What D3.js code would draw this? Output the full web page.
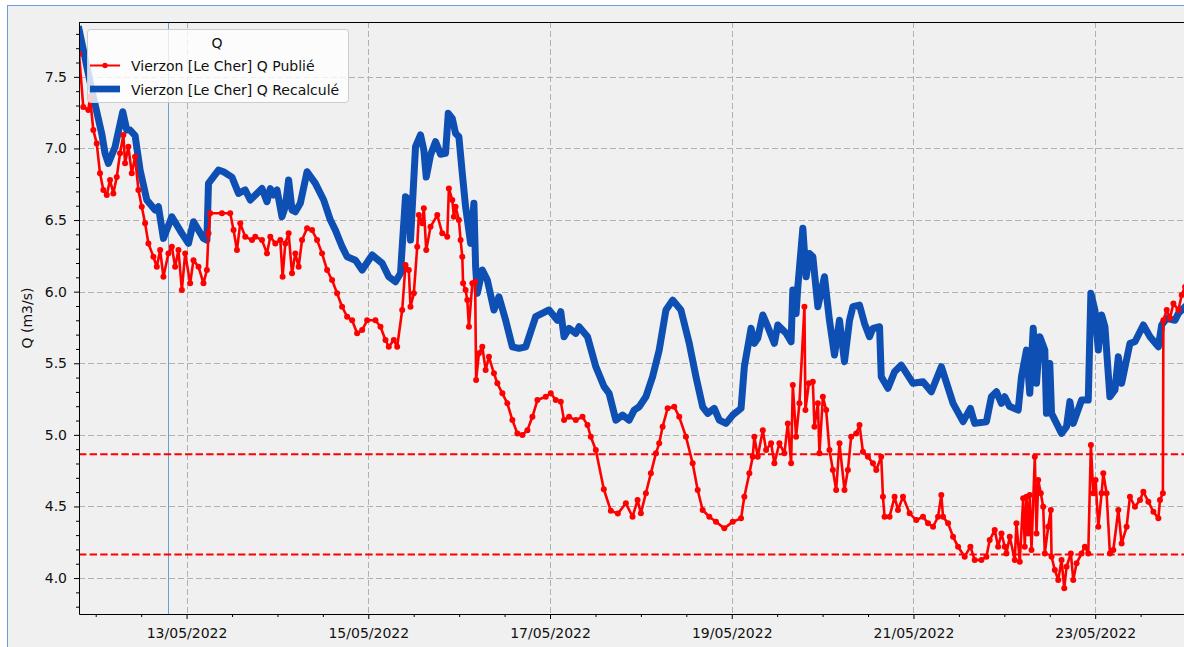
<!DOCTYPE html>
<html><head><meta charset="utf-8">
<script src="https://cdn.jsdelivr.net/npm/d3@7"></script>
<style>
html,body{margin:0;padding:0;background:#fff;overflow:hidden;}
svg{display:block;font-family:"DejaVu Sans",sans-serif;}
</style></head><body>
<svg id="chart" width="1184" height="647"></svg>
<script>
// ---------------- data (hours since 2022-05-11 00:00, discharge in m3/s) ----------------
const seriesNames = ["Vierzon [Le Cher] Q Publié", "Vierzon [Le Cher] Q Recalculé"];
const legendTitle = "Q";
const yLabel = "Q (m3/s)";
const yTicks = [4.0, 4.5, 5.0, 5.5, 6.0, 6.5, 7.0, 7.5];
const thresholds = [4.865, 4.165];
const cursorHour = 43.1;
const xDomainHours = [19.59, 316];
const yDomain = [3.749, 7.883];

const hoursRecalcule = [19.6,22.95,25.59,26.47,27.34,29.11,31.15,32.21,33.08,34.4,35.72,37.5,39.69,40.57,41.89,44.11,46.76,48.5,49.83,52.47,53.37,53.79,56.44,57.76,59.98,61.73,63.5,64.83,67.92,69.24,70.12,70.99,71.89,73.21,74.08,74.96,75.86,76.73,78.05,79.83,82.02,84.22,85.99,87.31,89.08,90.41,92.6,94.38,97.02,99.67,101.41,103.19,104.51,104.96,105.83,106.7,107.15,108.48,109.8,110.67,111.31,112.44,113.77,115.09,116.41,117.13,118.19,119.06,119.93,120.83,121.7,123.03,123.9,124.35,124.8,126.12,127.44,129.19,130.51,132.29,134.06,135.8,137.58,140.22,143.74,145.96,146.84,147.71,149.03,150.81,151.68,153.9,156.1,158.29,159.61,161.39,163.16,164.9,166.23,167.55,169.32,171.1,172.84,174.62,176.39,178.58,180.78,182.55,184.32,185.65,187.39,188.71,190.49,192.26,194.46,195.33,197.1,197.97,198.87,200.2,201.52,203.26,204.16,206.36,207.68,208.13,209.0,209.46,210.78,211.65,212.52,213.42,214.75,216.49,217.81,219.14,220.46,221.78,223.11,224.01,225.75,227.07,228.4,229.3,231.04,231.49,233.26,235.01,236.78,239.88,242.52,244.72,247.36,250.46,253.11,255.04,256.17,259.27,260.59,261.92,263.24,264.11,265.35,267.66,268.53,269.85,270.72,271.63,272.5,273.37,274.69,275.14,276.01,276.47,277.79,279.11,280.43,281.31,282.21,284.4,286.17,286.86,287.92,288.82,289.69,290.57,291.89,293.21,294.11,294.98,297.18,298.5,300.72,302.47,304.69,305.56,306.89,309.08,309.98,311.73,313.5];
const qRecalcule = [7.83,7.41,7.105,6.966,6.896,7.01,7.256,7.128,7.128,7.09,6.85,6.64,6.57,6.593,6.372,6.523,6.407,6.337,6.488,6.372,6.36,6.756,6.849,6.837,6.80,6.686,6.71,6.64,6.72,6.628,6.72,6.675,6.71,6.523,6.593,6.78,6.57,6.558,6.617,6.837,6.756,6.64,6.50,6.43,6.314,6.244,6.22,6.151,6.256,6.198,6.104,6.069,6.128,6.314,6.663,6.64,6.36,7.012,7.094,6.989,6.80,6.954,7.047,6.96,6.966,7.245,7.21,7.105,7.082,6.826,6.593,6.337,6.617,6.174,5.988,6.151,6.081,5.872,5.964,5.80,5.615,5.604,5.615,5.825,5.872,5.80,5.86,5.685,5.744,5.709,5.755,5.685,5.476,5.336,5.29,5.103,5.138,5.103,5.173,5.196,5.266,5.406,5.592,5.872,5.941,5.872,5.639,5.406,5.196,5.15,5.185,5.103,5.08,5.138,5.185,5.476,5.744,5.639,5.674,5.837,5.755,5.639,5.767,5.709,5.65,6.011,5.848,6.034,6.442,6.104,6.267,6.244,5.895,6.104,5.80,5.557,5.80,5.511,5.80,5.895,5.906,5.778,5.685,5.744,5.755,5.406,5.325,5.441,5.487,5.36,5.371,5.301,5.476,5.22,5.092,5.185,5.08,5.092,5.266,5.301,5.22,5.266,5.20,5.173,5.406,5.592,5.29,5.744,5.36,5.685,5.592,5.15,5.499,5.15,5.08,5.01,5.057,5.232,5.08,5.243,5.243,5.988,5.872,5.592,5.837,5.755,5.266,5.313,5.545,5.36,5.639,5.65,5.767,5.685,5.615,5.767,5.814,5.80,5.848,5.895,5.92];

const hoursPublie = [19.6,20.72,22.05,22.5,23.37,24.27,25.14,26.02,26.92,27.79,28.66,29.56,30.43,31.31,31.76,32.63,33.53,34.4,35.28,36.17,37.05,37.92,39.24,40.14,41.02,41.89,43.21,44.11,44.98,45.86,46.76,47.63,48.95,49.83,51.15,52.47,53.37,53.79,54.24,57.34,59.53,60.41,61.31,62.18,63.5,65.28,66.15,67.92,69.24,70.12,71.44,72.76,73.37,74.08,74.96,75.86,76.73,77.6,78.5,79.83,81.15,82.47,83.79,85.12,86.44,87.76,89.08,90.41,91.73,93.05,94.38,95.7,97.89,99.22,100.54,101.41,102.74,103.63,104.96,105.83,106.7,107.15,108.03,108.93,109.35,110.25,110.67,111.31,112.44,114.22,115.54,116.86,117.29,118.19,118.61,119.06,119.93,120.38,120.83,121.04,121.7,122.15,122.58,123.48,124.22,124.48,125.22,126.12,127.0,127.87,129.19,130.09,131.41,132.73,134.06,135.38,136.7,138.03,139.35,140.67,142.87,144.19,145.51,146.84,147.71,149.03,150.81,152.58,153.9,154.77,156.1,158.21,160.06,161.91,164.03,165.8,167.13,168.0,169.32,170.64,171.97,172.84,173.74,175.06,176.81,178.13,179.91,181.68,183.0,184.32,186.07,187.84,190.04,192.26,194.46,195.33,196.65,197.55,197.97,198.87,200.2,201.07,202.39,203.26,204.59,205.91,206.81,207.68,208.13,209.0,209.88,211.2,211.46,212.36,213.42,213.85,214.75,215.17,216.07,216.94,217.81,218.71,219.58,220.46,221.78,222.68,223.55,224.88,225.75,226.65,227.97,229.3,230.17,231.49,231.94,232.36,233.69,235.01,235.91,237.23,238.98,240.75,242.52,243.85,245.17,246.49,247.36,247.81,249.14,250.46,251.78,253.53,255.04,256.17,257.95,259.27,260.14,261.46,262.36,263.24,264.11,264.56,265.43,266.75,267.2,268.08,268.98,269.4,269.85,270.3,270.72,271.17,272.05,272.5,272.95,273.63,274.27,274.69,275.59,276.28,276.47,277.34,278.24,279.11,279.83,280.43,281.57,282.21,283.08,284.4,285.27,286.17,286.86,287.49,288.1,288.82,289.69,290.14,291.01,291.89,292.79,294.11,294.98,296.3,297.18,298.5,299.83,300.72,302.04,303.37,304.69,305.11,305.88,306.01,306.89,307.76,308.66,309.98,310.85,311.73,313.0];
const qPublie = [7.66,7.29,7.268,7.361,7.128,7.035,6.826,6.71,6.675,6.78,6.686,6.80,6.966,7.094,6.896,7.012,6.826,6.942,6.71,6.593,6.477,6.337,6.244,6.174,6.29,6.104,6.267,6.314,6.174,6.29,6.011,6.267,6.058,6.22,6.174,6.058,6.151,6.407,6.547,6.547,6.547,6.43,6.29,6.477,6.384,6.36,6.384,6.36,6.267,6.384,6.337,6.36,6.104,6.337,6.407,6.128,6.267,6.174,6.36,6.442,6.43,6.36,6.267,6.151,6.081,5.988,5.895,5.825,5.80,5.709,5.732,5.80,5.80,5.755,5.662,5.615,5.662,5.615,5.872,6.186,6.151,5.895,5.988,6.314,6.535,6.477,6.582,6.29,6.453,6.535,6.407,6.384,6.721,6.64,6.523,6.593,6.50,6.36,6.244,6.058,6.011,5.941,5.755,6.058,6.069,5.383,5.569,5.615,5.453,5.545,5.43,5.36,5.29,5.22,5.103,5.01,4.999,5.033,5.126,5.243,5.266,5.29,5.243,5.232,5.103,5.126,5.103,5.126,5.068,4.987,4.894,4.62,4.47,4.45,4.522,4.428,4.545,4.452,4.592,4.731,4.871,4.941,5.057,5.185,5.196,5.126,4.987,4.801,4.615,4.475,4.428,4.393,4.347,4.393,4.417,4.568,4.731,4.847,4.987,4.847,5.033,4.894,4.941,4.801,4.941,4.871,5.08,4.801,5.348,4.987,5.22,5.895,5.173,5.36,5.371,5.057,5.22,4.871,5.266,5.173,4.894,4.754,4.615,4.941,4.615,4.754,4.987,5.01,5.068,4.882,4.847,4.801,4.754,4.847,4.568,4.428,4.428,4.568,4.475,4.568,4.452,4.405,4.428,4.382,4.358,4.428,4.58,4.428,4.382,4.288,4.219,4.149,4.219,4.126,4.126,4.149,4.265,4.335,4.219,4.312,4.219,4.172,4.288,4.126,4.382,4.114,4.557,4.219,4.568,4.312,4.58,4.196,4.847,4.312,4.684,4.592,4.498,4.172,4.358,4.475,4.149,4.056,3.986,4.126,3.928,4.079,4.172,3.986,4.103,4.172,4.219,4.172,4.929,4.592,4.684,4.358,4.592,4.731,4.592,4.172,4.196,4.475,4.242,4.358,4.568,4.498,4.545,4.603,4.533,4.463,4.417,4.545,4.592,5.80,5.872,5.814,5.918,5.872,5.976,6.034,6.06];

// ---------------- rendering ----------------
const start = new Date(2022, 4, 11, 0, 0, 0);
const toDate = h => new Date(start.getTime() + h * 3600e3);
const pub = hoursPublie.map((h, i) => ({t: toDate(h), v: qPublie[i]}));
const rec = hoursRecalcule.map((h, i) => ({t: toDate(h), v: qRecalcule[i]}));

const svg = d3.select("#chart");
const L = 79, T = 22, B = 614, R = 1201.2;
const FS = "14px";

// widget frame
svg.append("rect").attr("x", 0).attr("y", 0).attr("width", 1184).attr("height", 647).attr("fill", "#ffffff");
svg.append("rect").attr("x", 7.5).attr("y", 5.5).attr("width", 1300).attr("height", 700)
  .attr("fill", "#f0f0f0").attr("stroke", "#6c9cd6").attr("stroke-width", 1);

const x = d3.scaleTime().domain(xDomainHours.map(toDate)).range([L, R]);
const y = d3.scaleLinear().domain(yDomain).range([B, T]);

svg.append("defs").append("clipPath").attr("id", "clip")
  .append("rect").attr("x", L).attr("y", T).attr("width", R - L).attr("height", B - T);

// grid
const majorX = x.ticks(d3.timeDay.every(2));
const gGrid = svg.append("g").attr("clip-path", "url(#clip)");
gGrid.selectAll("line.gy").data(yTicks).join("line")
  .attr("x1", L).attr("x2", R).attr("y1", d => Math.round(y(d)) + 0.5).attr("y2", d => Math.round(y(d)) + 0.5)
  .attr("stroke", "#b0b0b0").attr("stroke-width", 1).attr("stroke-dasharray", "6,3");
gGrid.selectAll("line.gx").data(majorX).join("line")
  .attr("y1", T).attr("y2", B).attr("x1", d => Math.round(x(d)) + 0.5).attr("x2", d => Math.round(x(d)) + 0.5)
  .attr("stroke", "#b0b0b0").attr("stroke-width", 1).attr("stroke-dasharray", "6,3");

// cursor vertical line
gGrid.append("line").attr("x1", Math.round(x(toDate(cursorHour))) + 0.5).attr("x2", Math.round(x(toDate(cursorHour))) + 0.5)
  .attr("y1", T).attr("y2", B).attr("stroke", "#6a9fd4").attr("stroke-width", 1);

// threshold lines
gGrid.selectAll("line.th").data(thresholds).join("line")
  .attr("x1", L).attr("x2", R).attr("y1", d => y(d)).attr("y2", d => y(d))
  .attr("stroke", "#ff0000").attr("stroke-width", 2).attr("stroke-dasharray", "7.4,3.2");

// series
const line = d3.line().x(d => x(d.t)).y(d => y(d.v));
const gData = svg.append("g").attr("clip-path", "url(#clip)");
gData.append("path").datum(rec).attr("d", line).attr("fill", "none")
  .attr("stroke", "#0d4fb3").attr("stroke-width", 7).attr("stroke-linejoin", "round").attr("stroke-linecap", "square");
gData.append("path").datum(pub).attr("d", line).attr("fill", "none")
  .attr("stroke", "#ff0000").attr("stroke-width", 2.6).attr("stroke-linejoin", "round");
gData.selectAll("circle").data(pub).join("circle")
  .attr("cx", d => x(d.t)).attr("cy", d => y(d.v)).attr("r", 3).attr("fill", "#ff0000");

// axes
const minorY = d3.range(38, 79).map(d => d / 10).filter(d => Math.abs(d * 2 - Math.round(d * 2)) > 1e-6);
const minorX = x.ticks(d3.timeHour.every(12)).filter(d => d.getHours() !== 0 || (d.getDate() % 2 === 0));

svg.append("g").attr("transform", `translate(${L},0)`)
  .call(d3.axisLeft(y).tickValues(yTicks).tickFormat(d3.format(".1f")).tickSizeInner(5).tickSizeOuter(0).tickPadding(7));
svg.append("g").attr("transform", `translate(${L},0)`)
  .call(d3.axisLeft(y).tickValues(minorY).tickFormat("").tickSizeInner(3).tickSizeOuter(0))
  .select(".domain").remove();
svg.append("g").attr("transform", `translate(0,${B})`)
  .call(d3.axisBottom(x).tickValues(majorX).tickFormat(d3.timeFormat("%d/%m/%Y")).tickSizeInner(5).tickSizeOuter(0).tickPadding(9));
svg.append("g").attr("transform", `translate(0,${B})`)
  .call(d3.axisBottom(x).tickValues(minorX).tickFormat("").tickSizeInner(3).tickSizeOuter(0))
  .select(".domain").remove();
svg.selectAll(".tick text").attr("font-family", "DejaVu Sans").attr("font-size", FS).attr("fill", "#111");
svg.selectAll(".domain, .tick line").attr("stroke", "#000");

// top spine
svg.append("line").attr("x1", L).attr("x2", R).attr("y1", T + 0.5).attr("y2", T + 0.5).attr("stroke", "#000");

// y label
svg.append("text").attr("transform", `translate(32,${(T + B) / 2}) rotate(-90)`)
  .attr("text-anchor", "middle").attr("font-size", FS).attr("fill", "#111").text(yLabel);

// legend
const lg = svg.append("g");
lg.append("rect").attr("x", 87.5).attr("y", 29.5).attr("width", 261).attr("height", 73).attr("rx", 3)
  .attr("fill", "#ffffff").attr("fill-opacity", 0.8).attr("stroke", "#cccccc");
lg.append("text").attr("x", 217).attr("y", 47.5).attr("text-anchor", "middle").attr("font-size", FS).attr("fill", "#111").text(legendTitle);
lg.append("line").attr("x1", 90).attr("x2", 120).attr("y1", 65.5).attr("y2", 65.5).attr("stroke", "#ff0000").attr("stroke-width", 2);
lg.append("circle").attr("cx", 105).attr("cy", 65.5).attr("r", 2.7).attr("fill", "#ff0000");
lg.append("text").attr("x", 131).attr("y", 70.5).attr("font-size", FS).attr("fill", "#111").text(seriesNames[0]);
lg.append("line").attr("x1", 90).attr("x2", 120).attr("y1", 89).attr("y2", 89).attr("stroke", "#0d4fb3").attr("stroke-width", 6.7);
lg.append("text").attr("x", 131).attr("y", 94.5).attr("font-size", FS).attr("fill", "#111").text(seriesNames[1]);
</script>
</body></html>
